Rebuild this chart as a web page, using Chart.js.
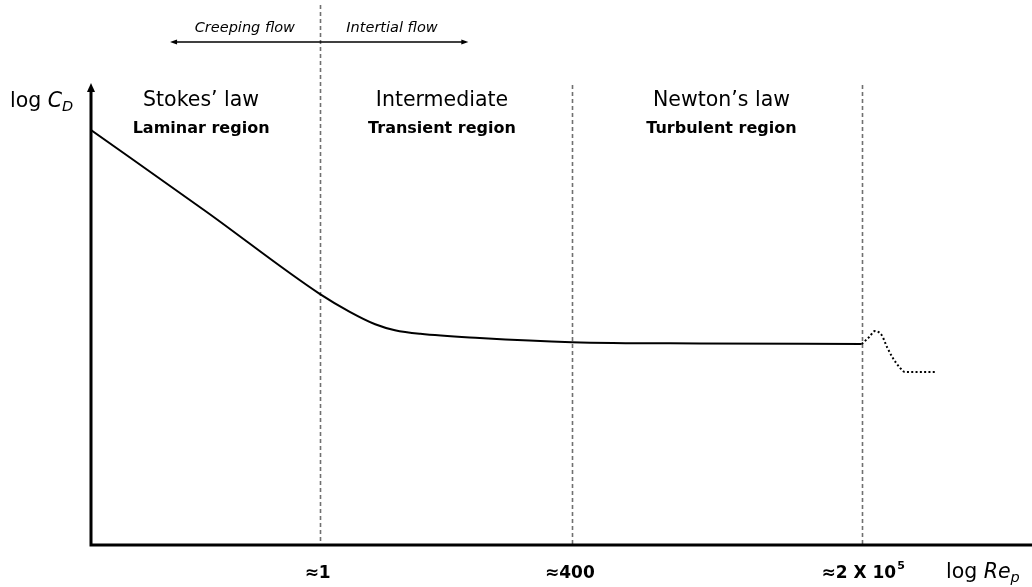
<!DOCTYPE html>
<html>
<head>
<meta charset="utf-8">
<script src="https://cdn.jsdelivr.net/npm/chart.js@4/dist/chart.umd.min.js"></script>
<style>
  body { margin: 0; background: #fff; }
  #wrap { width: 1032px; height: 587px; }
</style>
</head>
<body>
<div id="wrap"><canvas id="myChart"></canvas></div>
<script>
// schematic units: x = position along log Re_p axis (0-100), y = log C_D (0-100)
const curveX = [0, 12.3, 24.3, 27.5, 30.2, 32.3, 35.0, 41.3, 51.1, 64.7, 81.9];
const curveY = [90.2, 72.4, 54.6, 50.7, 48.0, 46.7, 45.9, 45.0, 44.1, 43.8, 43.7];
const crisisX = [81.9, 82.7, 83.3, 84.0, 84.6, 85.2, 85.9, 86.5, 89.9];
const crisisY = [43.7, 45.2, 46.5, 45.7, 43.0, 40.7, 38.7, 37.6, 37.6];

const boundaries = [24.3, 51.1, 81.9];
const boundaryLabels = ['≈1', '≈400', '≈2 X 10'];
const regionCenters = [11.7, 37.3, 67.0];
const regionTitles = ['Stokes’ law', 'Intermediate', 'Newton’s law'];
const regionSubtitles = ['Laminar region', 'Transient region', 'Turbulent region'];
const flowArrow = [8.4, 40.1]; // extent of the creeping / inertial arrow

const FONT = '"DejaVu Sans", sans-serif';

function arrowHead(ctx, x, y, dir, len, half) {
  // dir: 'up', 'left', 'right'
  ctx.beginPath();
  if (dir === 'up') {
    ctx.moveTo(x, y); ctx.lineTo(x - half, y + len); ctx.lineTo(x + half, y + len);
  } else if (dir === 'left') {
    ctx.moveTo(x, y); ctx.lineTo(x + len, y - half); ctx.lineTo(x + len, y + half);
  } else {
    ctx.moveTo(x, y); ctx.lineTo(x - len, y - half); ctx.lineTo(x - len, y + half);
  }
  ctx.closePath();
  ctx.fill();
}

const decorPlugin = {
  id: 'decor',
  beforeDatasetsDraw(chart) {
    const ctx = chart.ctx;
    const xs = chart.scales.x;
    const area = chart.chartArea;
    ctx.save();
    ctx.strokeStyle = '#707070';
    ctx.lineWidth = 1.6;
    ctx.setLineDash([4, 3]);
    boundaries.forEach((b, i) => {
      const px = Math.round(xs.getPixelForValue(b)) + 0.5;
      ctx.beginPath();
      ctx.moveTo(px, i === 0 ? 5 : area.top);
      ctx.lineTo(px, area.bottom);
      ctx.stroke();
    });
    ctx.restore();
  },
  afterDraw(chart) {
    const ctx = chart.ctx;
    const xs = chart.scales.x;
    const area = chart.chartArea;
    ctx.save();
    ctx.fillStyle = '#000';
    ctx.strokeStyle = '#000';

    // axes
    ctx.lineWidth = 3;
    ctx.beginPath();
    ctx.moveTo(area.left, area.top + 4);
    ctx.lineTo(area.left, area.bottom);
    ctx.lineTo(chart.width, area.bottom);
    ctx.stroke();
    arrowHead(ctx, area.left, area.top - 2, 'up', 9, 4);

    // creeping / inertial arrow
    const ax0 = xs.getPixelForValue(flowArrow[0]);
    const ax1 = xs.getPixelForValue(flowArrow[1]);
    ctx.lineWidth = 1.5;
    ctx.beginPath();
    ctx.moveTo(ax0 + 3, 42);
    ctx.lineTo(ax1 - 3, 42);
    ctx.stroke();
    arrowHead(ctx, ax0, 42, 'left', 7, 2.5);
    arrowHead(ctx, ax1, 42, 'right', 7, 2.5);

    ctx.textBaseline = 'alphabetic';
    ctx.textAlign = 'center';
    ctx.font = 'italic 14.5px ' + FONT;
    const bx = xs.getPixelForValue(boundaries[0]);
    ctx.fillText('Creeping flow', (ax0 + bx) / 2 + 0, 32);
    ctx.fillText('Intertial flow', (bx + ax1) / 2 - 2, 32);

    // region titles
    regionCenters.forEach((c, i) => {
      const px = xs.getPixelForValue(c);
      ctx.font = '20.5px ' + FONT;
      ctx.fillText(regionTitles[i], px, 106);
      ctx.font = 'bold 16px ' + FONT;
      ctx.fillText(regionSubtitles[i], px, 133);
    });

    // boundary labels
    const LF = 'bold 17px ' + FONT;
    ctx.font = LF;
    boundaries.forEach((b, i) => {
      const px = xs.getPixelForValue(b);
      if (i === 2) {
        const main = boundaryLabels[i];
        ctx.font = LF;
        const w1 = ctx.measureText(main).width;
        ctx.font = 'bold 11px ' + FONT;
        const w2 = ctx.measureText('5').width;
        const start = px - (w1 + w2) / 2 + 1;
        ctx.textAlign = 'left';
        ctx.font = LF;
        ctx.fillText(main, start, 578);
        ctx.font = 'bold 11px ' + FONT;
        ctx.fillText('5', start + w1 + 1, 569);
        ctx.textAlign = 'center';
        ctx.font = LF;
      } else {
        ctx.fillText(boundaryLabels[i], px - 2, 578);
      }
    });

    // axis titles
    ctx.textAlign = 'left';
    let x = 10;
    ctx.font = '20.5px ' + FONT;
    ctx.fillText('log ', x, 107);
    x += ctx.measureText('log ').width;
    ctx.font = 'italic 20.5px ' + FONT;
    ctx.fillText('C', x, 107);
    x += ctx.measureText('C').width;
    ctx.font = 'italic 14.5px ' + FONT;
    ctx.fillText('D', x, 111);

    x = 946;
    ctx.font = '20.5px ' + FONT;
    ctx.fillText('log ', x, 578);
    x += ctx.measureText('log ').width;
    ctx.font = 'italic 20.5px ' + FONT;
    ctx.fillText('Re', x, 578);
    x += ctx.measureText('Re').width;
    ctx.font = 'italic 14.5px ' + FONT;
    ctx.fillText('p', x, 582);

    ctx.restore();
  }
};

const ctx = document.getElementById('myChart').getContext('2d');
new Chart(ctx, {
  type: 'line',
  data: {
    datasets: [{
      data: curveX.map((x, i) => ({ x: x, y: curveY[i] })),
      borderColor: '#000',
      borderWidth: 2,
      cubicInterpolationMode: 'monotone',
      pointRadius: 0,
      fill: false,
    }, {
      data: crisisX.map((x, i) => ({ x: x, y: crisisY[i] })),
      borderColor: '#000',
      borderWidth: 2,
      borderDash: [2, 2.3],
      cubicInterpolationMode: 'monotone',
      pointRadius: 0,
      fill: false,
    }]
  },
  options: {
    responsive: true,
    maintainAspectRatio: false,
    animation: false,
    layout: { padding: { left: 91, right: 0, top: 85, bottom: 42 } },
    plugins: {
      legend: { display: false },
      tooltip: { enabled: false }
    },
    scales: {
      x: { type: 'linear', min: 0, max: 100, display: false },
      y: { type: 'linear', min: 0, max: 100, display: false }
    }
  },
  plugins: [decorPlugin]
});
</script>
</body>
</html>
